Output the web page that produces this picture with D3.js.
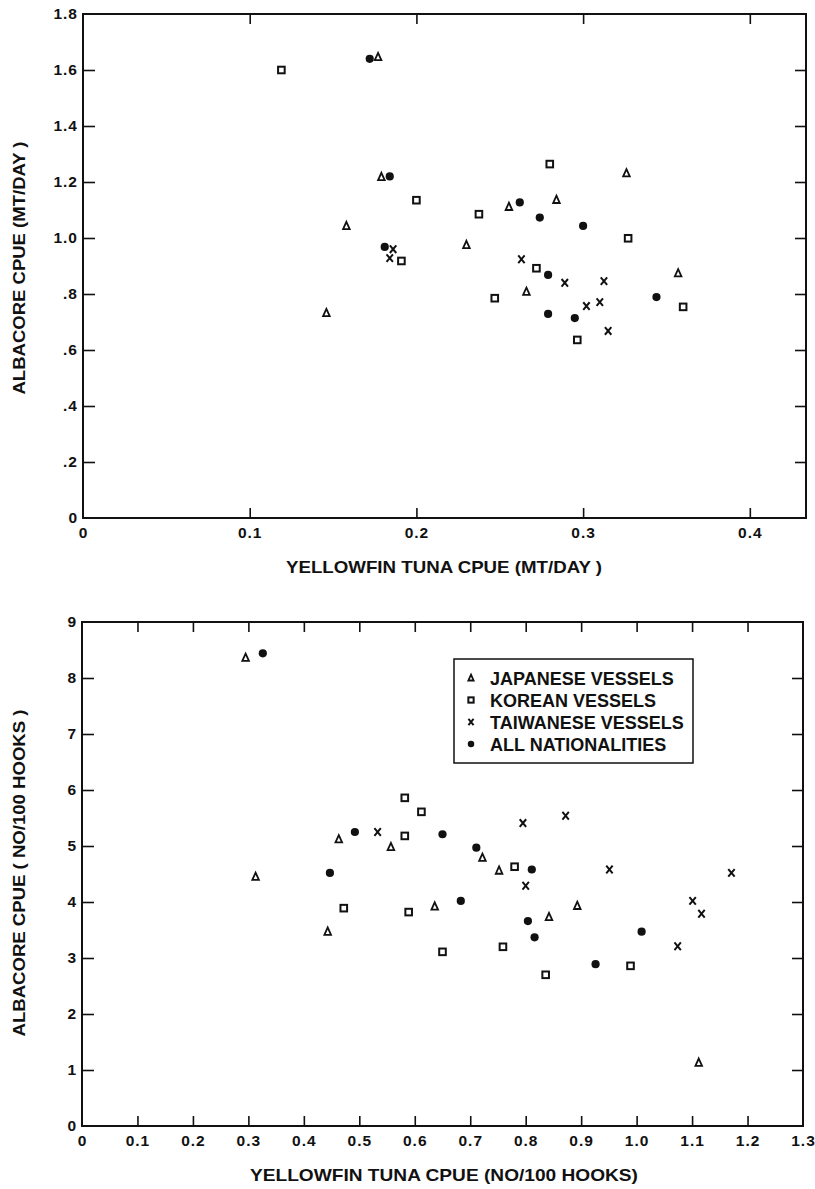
<!DOCTYPE html>
<html>
<head>
<meta charset="utf-8">
<script src="https://cdn.jsdelivr.net/npm/d3@7"></script>
<style>
  body { margin: 0; background: #fff; }
  text { font-family: "Liberation Sans", Arial, sans-serif; font-weight: bold; fill: #111; }
</style>
</head>
<body>
<div id="chart"></div>
<script>
// DATA: top panel, weight (MT/DAY)
const topJapanese = [[0.177, 1.646], [0.179, 1.218], [0.158, 1.043], [0.146, 0.732], [0.326, 1.231],
    [0.2555, 1.111], [0.284, 1.136], [0.230, 0.975], [0.357, 0.874], [0.266, 0.808]];
const topKorean = [[0.119, 1.60], [0.191, 0.918], [0.200, 1.135], [0.280, 1.264], [0.2375, 1.085],
    [0.327, 0.999], [0.272, 0.892], [0.247, 0.785], [0.360, 0.754], [0.2965, 0.636]];
const topTaiwanese = [[0.186, 0.96], [0.184, 0.928], [0.263, 0.924], [0.289, 0.84], [0.3125, 0.846],
    [0.302, 0.757], [0.310, 0.771], [0.315, 0.668]];
const topAll = [[0.172, 1.64], [0.184, 1.22], [0.181, 0.968], [0.262, 1.127], [0.274, 1.073],
    [0.300, 1.043], [0.279, 0.868], [0.344, 0.789], [0.279, 0.729], [0.295, 0.714]];

// DATA: bottom panel, numbers (NO/100 HOOKS)
const botJapanese = [[0.295, 8.36], [0.313, 4.45], [0.463, 5.12], [0.557, 4.98], [0.443, 3.47],
    [0.722, 4.79], [0.752, 4.56], [0.636, 3.92], [0.893, 3.93], [0.842, 3.73], [1.112, 1.13]];
const botKorean = [[0.582, 5.18], [0.582, 5.86], [0.612, 5.61], [0.472, 3.89], [0.589, 3.82],
    [0.780, 4.63], [0.650, 3.11], [0.759, 3.20], [0.836, 2.70], [0.989, 2.86]];
const botTaiwanese = [[0.533, 5.25], [0.795, 5.41], [0.872, 5.54], [0.800, 4.29], [0.951, 4.58],
    [1.171, 4.52], [1.101, 4.02], [1.117, 3.79], [1.074, 3.21]];
const botAll = [[0.326, 8.44], [0.447, 4.52], [0.492, 5.25], [0.650, 5.21], [0.711, 4.97],
    [0.811, 4.58], [0.683, 4.02], [0.804, 3.66], [0.816, 3.37], [0.926, 2.89], [1.009, 3.47]];

// Ticks
const topXTicks = [0, 0.1, 0.2, 0.3, 0.4];
const topYTicks = [0, 0.2, 0.4, 0.6, 0.8, 1.0, 1.2, 1.4, 1.6, 1.8];
const botXTicks = [0, 0.1, 0.2, 0.3, 0.4, 0.5, 0.6, 0.7, 0.8, 0.9, 1.0, 1.1, 1.2, 1.3];
const botYTicks = [0, 1, 2, 3, 4, 5, 6, 7, 8, 9];

const legendLabels = ['JAPANESE VESSELS', 'KOREAN VESSELS', 'TAIWANESE VESSELS', 'ALL NATIONALITIES'];
const kinds = ['triangle', 'square', 'cross', 'dot'];

// FIGURE
const FIGURE = { WIDTH: 815, HEIGHT: 1189 };

const svg = d3.select('#chart')
    .append('svg')
        .attr('width', FIGURE.WIDTH)
        .attr('height', FIGURE.HEIGHT);

function marker(sel, kind, scale) {
    const s = scale || 1;
    if (kind === 'dot') {
        sel.append('circle').attr('r', 4.1 * s).attr('fill', '#111');
    } else if (kind === 'square') {
        sel.append('rect')
            .attr('x', -3.3 * s).attr('y', -3.3 * s)
            .attr('width', 6.6 * s).attr('height', 6.6 * s)
            .attr('fill', 'none').attr('stroke', '#111').attr('stroke-width', 2);
    } else if (kind === 'triangle') {
        sel.append('path')
            .attr('d', `M0,${-4.2 * s}L${3.3 * s},${3.1 * s}L${-3.3 * s},${3.1 * s}Z`)
            .attr('fill', 'none').attr('stroke', '#111').attr('stroke-width', 1.8)
            .attr('stroke-linejoin', 'miter');
    } else {
        sel.append('path')
            .attr('d', `M${-3.2 * s},${-3.8 * s}L${3.2 * s},${3.8 * s}M${3.2 * s},${-3.8 * s}L${-3.2 * s},${3.8 * s}`)
            .attr('stroke', '#111').attr('stroke-width', 2);
    }
}

function panel(opt) {
    const x = d3.scaleLinear().domain(opt.xDomain).range([opt.left, opt.right]);
    const y = d3.scaleLinear().domain(opt.yDomain).range([opt.bottom, opt.top]);
    const g = svg.append('g');

    // frame
    g.append('rect')
        .attr('x', opt.left).attr('y', opt.top)
        .attr('width', opt.right - opt.left).attr('height', opt.bottom - opt.top)
        .attr('fill', 'none').attr('stroke', '#111').attr('stroke-width', 2);

    const inner = opt.xTicks.filter(d => d > 0 && x(d) < opt.right - 2);
    const innerY = opt.yTicks.filter(d => d > 0 && y(d) > opt.top + 2);

    // bottom
    g.append('g')
        .attr('transform', `translate(0,${opt.bottom})`)
        .call(d3.axisBottom(x).tickValues(opt.xTicks).tickFormat(opt.xFormat)
            .tickSizeInner(-10).tickSizeOuter(0).tickPadding(9))
        .call(a => a.select('.domain').remove())
        .call(a => a.selectAll('.tick').filter(d => !inner.includes(d)).select('line').remove());
    // top
    g.append('g')
        .attr('transform', `translate(0,${opt.top})`)
        .call(d3.axisTop(x).tickValues(inner).tickSizeInner(-10).tickSizeOuter(0).tickFormat(''))
        .call(a => a.select('.domain').remove());
    // left
    g.append('g')
        .attr('transform', `translate(${opt.left},0)`)
        .call(d3.axisLeft(y).tickValues(opt.yTicks).tickFormat(opt.yFormat)
            .tickSizeInner(-12).tickSizeOuter(0).tickPadding(5))
        .call(a => a.select('.domain').remove())
        .call(a => a.selectAll('.tick').filter(d => !innerY.includes(d)).select('line').remove());
    // right
    g.append('g')
        .attr('transform', `translate(${opt.right},0)`)
        .call(d3.axisRight(y).tickValues(innerY).tickSizeInner(-11).tickSizeOuter(0).tickFormat(''))
        .call(a => a.select('.domain').remove());

    g.selectAll('.tick line').attr('stroke', '#111').attr('stroke-width', 1.6);
    g.selectAll('.tick text')
        .attr('fill', '#111')
        .attr('font-size', 15.5)
        .attr('font-family', '"Liberation Sans", Arial, sans-serif')
        .style('font-weight', 'bold')
        .style('letter-spacing', '1px');

    // points
    opt.series.forEach((data, i) => {
        g.append('g').selectAll('g')
            .data(data)
            .enter()
            .append('g')
                .attr('transform', d => `translate(${x(d[0])},${y(d[1])})`)
                .each(function() { marker(d3.select(this), kinds[i]); });
    });

    // titles
    g.append('text')
        .attr('x', opt.xTitleX).attr('y', opt.xTitleY)
        .attr('text-anchor', 'middle').attr('font-size', 16.5)
        .attr('textLength', opt.xTitleLen).attr('lengthAdjust', 'spacingAndGlyphs')
        .text(opt.xTitle);
    g.append('text')
        .attr('transform', `translate(${opt.yTitleX},${opt.yTitleY}) rotate(-90)`)
        .attr('text-anchor', 'middle').attr('font-size', 16.5)
        .attr('textLength', opt.yTitleLen).attr('lengthAdjust', 'spacingAndGlyphs')
        .text(opt.yTitle);

    return { x, y, g };
}

const yFmtTop = d => d === 0 ? '0' : (d >= 1 ? d.toFixed(1) : d.toFixed(1).slice(1));

panel({
    left: 83, right: 806, top: 14, bottom: 518,
    xDomain: [0, 0.4337], yDomain: [0, 1.8],
    xTicks: topXTicks, yTicks: topYTicks,
    xFormat: d => d === 0 ? '0' : d.toFixed(1), yFormat: yFmtTop,
    series: [topJapanese, topKorean, topTaiwanese, topAll],
    xTitle: 'YELLOWFIN TUNA CPUE (MT/DAY )', xTitleX: 444, xTitleY: 573, xTitleLen: 316,
    yTitle: 'ALBACORE CPUE (MT/DAY )', yTitleX: 25, yTitleY: 268, yTitleLen: 253
});

panel({
    left: 82, right: 803, top: 622, bottom: 1126,
    xDomain: [0, 1.3], yDomain: [0, 9],
    xTicks: botXTicks, yTicks: botYTicks,
    xFormat: d => d === 0 ? '0' : d.toFixed(1), yFormat: d => String(d),
    series: [botJapanese, botKorean, botTaiwanese, botAll],
    xTitle: 'YELLOWFIN TUNA CPUE (NO/100 HOOKS)', xTitleX: 444, xTitleY: 1181, xTitleLen: 388,
    yTitle: 'ALBACORE CPUE ( NO/100 HOOKS )', yTitleX: 25, yTitleY: 873, yTitleLen: 327
});

// legend
const legend = svg.append('g');
legend.append('rect')
    .attr('x', 454).attr('y', 659).attr('width', 239).attr('height', 104)
    .attr('fill', '#fff').attr('stroke', '#111').attr('stroke-width', 1.5);
legendLabels.forEach((label, i) => {
    const row = legend.append('g').attr('transform', `translate(471,${678 + i * 22})`);
    marker(row, kinds[i], 0.8);
    row.append('text')
        .attr('x', 19).attr('y', 6.5)
        .attr('font-size', 18)
        .text(label);
});
</script>
</body>
</html>
